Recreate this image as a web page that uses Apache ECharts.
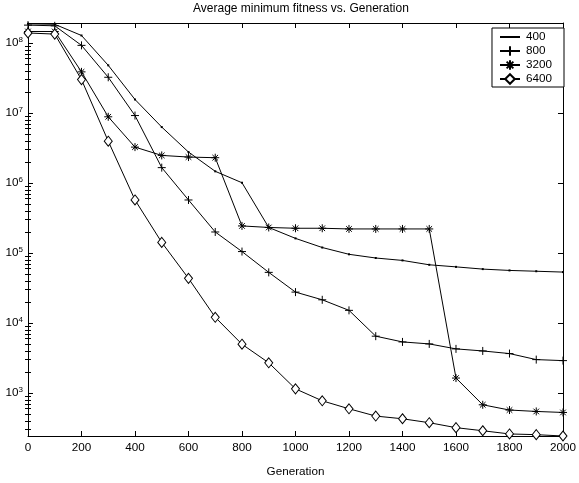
<!DOCTYPE html>
<html>
<head>
<meta charset="utf-8">
<script src="https://cdn.jsdelivr.net/npm/echarts@6/dist/echarts.min.js"></script>
<style>html,body{margin:0;padding:0;background:#fff}#c{width:579px;height:483px}</style>
</head>
<body>
<div id="c"></div>
<script>
const generations = [0,100,200,300,400,500,600,700,800,900,1000,1100,1200,1300,1400,1500,1600,1700,1800,1900,2000];
const s400 = [1.88e8,1.85e8,1.28e8,4.8e7,1.56e7,6.3e6,2.77e6,1.47e6,1.01e6,2.32e5,1.62e5,1.2e5,9.6e4,8.5e4,7.85e4,6.8e4,6.35e4,5.9e4,5.65e4,5.5e4,5.35e4];
const s800 = [1.8e8,1.76e8,9.25e7,3.24e7,9.2e6,1.66e6,5.73e5,2.0e5,1.05e5,5.3e4,2.77e4,2.15e4,1.52e4,6.5e3,5.38e3,5.04e3,4.28e3,4.0e3,3.67e3,3.01e3,2.91e3];
const s3200 = [1.46e8,1.46e8,3.87e7,8.83e6,3.26e6,2.48e6,2.35e6,2.3e6,2.44e5,2.32e5,2.26e5,2.26e5,2.21e5,2.21e5,2.21e5,2.21e5,1.64e3,681,573,547,529];
const s6400 = [1.39e8,1.34e8,3.0e7,3.96e6,5.73e5,1.42e5,4.35e4,1.21e4,4.99e3,2.71e3,1.15e3,776,597,470,430,378,321,290,261,255,244];
const seriesNames = ['400','800','3200','6400'];
const majorTicks = [1e3,1e4,1e5,1e6,1e7,1e8];
const Y_MIN = 244, Y_MAX = 1.93e8;
const minorTicks = [];
for (let e = 2; e <= 8; e++) for (let m = 2; m <= 9; m++) { const v = m * Math.pow(10, e); if (v > Y_MIN && v < Y_MAX) minorTicks.push(v); }

const FONT = 'Liberation Sans, Arial, Helvetica, sans-serif';
const chart = echarts.init(document.getElementById('c'), null, {renderer: 'canvas'});

function pairs(vals){ return generations.map((g,i)=>[g, vals[i]]); }

const baseY = {
  type: 'log', min: Y_MIN, max: Y_MAX, logBase: 10,
  splitLine: {show: false},
  axisLine: {show: true, onZero: false, lineStyle: {color: '#000', width: 1}},
};
const yAxes = [
  Object.assign({}, baseY, {
    position: 'left',
    axisTick: {show: true, inside: true, length: 5, customValues: majorTicks, lineStyle: {color: '#000'}},
    axisLabel: {show: true, customValues: majorTicks, margin: 5, color: '#000', fontFamily: FONT,
      formatter: v => '{b|10}{s|' + Math.round(Math.log10(v)) + '}',
      rich: {b: {fontSize: 11.7, fontFamily: FONT, color: '#000', lineHeight: 14},
             s: {fontSize: 8, fontFamily: FONT, color: '#000', verticalAlign: 'top', lineHeight: 14}}}
  }),
  Object.assign({}, baseY, {
    position: 'left',
    axisLine: {show: false},
    axisTick: {show: true, inside: true, length: 3, customValues: minorTicks, lineStyle: {color: '#000'}},
    axisLabel: {show: false}
  }),
  Object.assign({}, baseY, {
    position: 'right',
    axisTick: {show: true, inside: true, length: 5, customValues: majorTicks, lineStyle: {color: '#000'}},
    axisLabel: {show: false}
  }),
  Object.assign({}, baseY, {
    position: 'right',
    axisLine: {show: false},
    axisTick: {show: true, inside: true, length: 3, customValues: minorTicks, lineStyle: {color: '#000'}},
    axisLabel: {show: false}
  })
];

const xAxes = [
  {type: 'value', position: 'bottom', min: 0, max: 2000, interval: 200,
   name: 'Generation', nameLocation: 'middle', nameGap: 30,
   nameTextStyle: {fontSize: 11.7, fontFamily: FONT, color: '#000'},
   splitLine: {show: false},
   axisLine: {show: true, onZero: false, lineStyle: {color: '#000', width: 1}},
   axisTick: {show: true, inside: true, length: 5, lineStyle: {color: '#000'}},
   axisLabel: {show: true, margin: 6, fontSize: 11.7, fontFamily: FONT, color: '#000', formatter: v => String(v)}},
  {type: 'value', position: 'top', min: 0, max: 2000, interval: 200,
   splitLine: {show: false},
   axisLine: {show: true, onZero: false, lineStyle: {color: '#000', width: 1}},
   axisTick: {show: true, inside: true, length: 5, lineStyle: {color: '#000'}},
   axisLabel: {show: false}}
];

const dotPath = 'path://M-5,-5L-5,-5M5,5L5,5M-1,-1L1,-1L1,1L-1,1Z';
const plusPath = 'path://M0,-1L0,1M-1,0L1,0';
const starPath = 'path://M0,-1L0,1M-1,0L1,0M-0.7,-0.7L0.7,0.7M-0.7,0.7L0.7,-0.7';

function mkSeries(name, vals, symbol, size, itemStyle){
  return {
    name: name, type: 'line', xAxisIndex: 0, yAxisIndex: 0,
    data: pairs(vals), clip: false, animation: false,
    symbol: symbol, symbolSize: size, showSymbol: true,
    lineStyle: {color: '#000', width: 1},
    itemStyle: itemStyle,
    emphasis: {disabled: true}
  };
}

const option = {
  backgroundColor: '#fff',
  animation: false,
  title: {text: 'Average minimum fitness vs. Generation', left: 188, top: -2,
    textStyle: {fontSize: 12, fontWeight: 'normal', fontFamily: FONT, color: '#000'}},
  grid: {left: 28, right: 14, top: 23, bottom: 46, containLabel: false},
  xAxis: xAxes,
  yAxis: yAxes,
  legend: {
    orient: 'vertical', right: 15, top: 28,
    data: seriesNames,
    backgroundColor: '#fff', borderColor: '#000', borderWidth: 1,
    padding: [3, 12, 2, 7], itemGap: 2, itemWidth: 20, itemHeight: 12,
    textStyle: {fontSize: 11.7, fontFamily: FONT, color: '#000', padding: [0,0,0,1]},
    selectedMode: false
  },
  series: [
    mkSeries('400', s400, dotPath, 10, {color: '#000'}),
    mkSeries('800', s800, plusPath, 8, {color: '#000', borderColor: '#000', borderWidth: 1}),
    mkSeries('3200', s3200, starPath, 8, {color: '#000', borderColor: '#000', borderWidth: 1}),
    mkSeries('6400', s6400, 'diamond', [8, 10], {color: '#fff', borderColor: '#000', borderWidth: 1})
  ]
};
chart.setOption(option);
</script>
</body>
</html>
